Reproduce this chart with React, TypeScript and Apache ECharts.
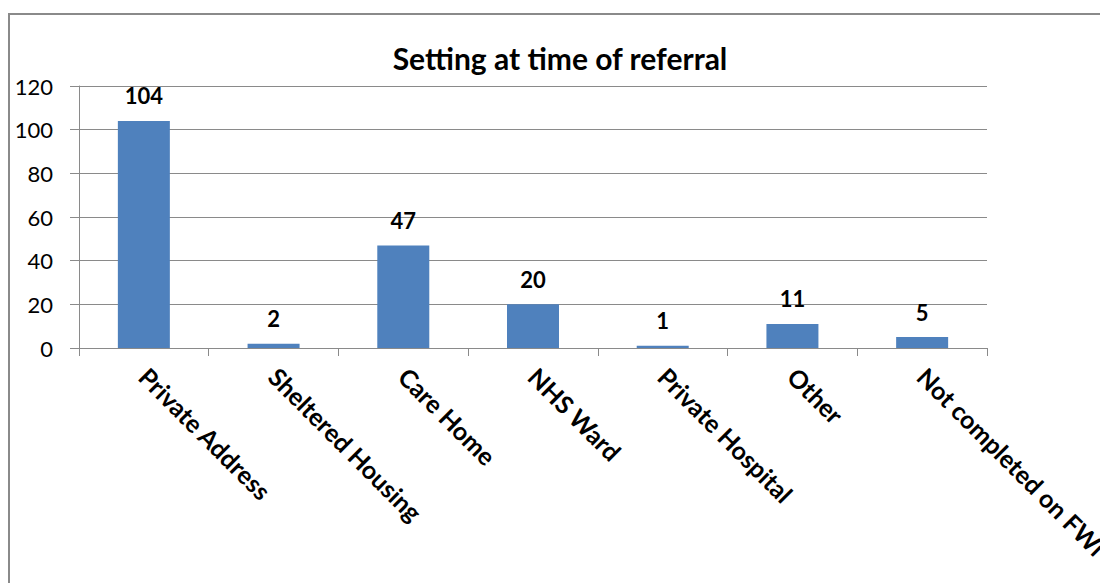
import React, { useEffect, useRef } from "react";
import * as echarts from "echarts";

const categories = [
  "Private Address",
  "Sheltered Housing",
  "Care Home",
  "NHS Ward",
  "Private Hospital",
  "Other",
  "Not completed on FWi",
];
const values = [104, 2, 47, 20, 1, 11, 5];
const yTicks = { min: 0, max: 120, interval: 20 };
const title = "Setting at time of referral";

const FONT = "Lato, 'Open Sans', sans-serif";

export default function App() {
  const ref = useRef<HTMLDivElement>(null);
  useEffect(() => {
    document.body.style.margin = "0";
    const chart = echarts.init(ref.current!, undefined, { renderer: "svg" });
    chart.setOption({
      animation: false,
      backgroundColor: "#ffffff",
      textStyle: { fontFamily: FONT },
      title: {
        text: title,
        left: 555,
        textAlign: "center",
        top: 38,
        textStyle: { fontFamily: FONT, fontWeight: "bold", fontSize: 30, color: "#000" },
      },
      graphic: [
        {
          type: "rect",
          shape: { x: 9, y: 14, width: 1300, height: 800 },
          style: { fill: "none", stroke: "#8a8a8a", lineWidth: 2 },
          silent: true,
        },
      ],
      grid: {
        left: 79,
        right: 113,
        top: 86,
        bottom: 235,
        containLabel: false,
        outerBoundsMode: "none",
      },
      xAxis: {
        type: "category",
        data: categories,
        axisLine: { show: true, lineStyle: { color: "#8a8a8a", width: 1 } },
        axisTick: { show: true, alignWithLabel: false, length: 8, lineStyle: { color: "#8a8a8a" } },
        axisLabel: {
          interval: 0,
          rotate: -45,
          margin: 24,
          color: "#000",
          fontFamily: FONT,
          fontSize: 25,
          fontWeight: "bold",
        },
      },
      yAxis: {
        type: "value",
        min: yTicks.min,
        max: yTicks.max,
        interval: yTicks.interval,
        axisLine: { show: true, lineStyle: { color: "#8a8a8a", width: 1 } },
        axisTick: { show: true, length: 9, lineStyle: { color: "#8a8a8a" } },
        splitLine: { show: true, lineStyle: { color: "#8a8a8a", width: 1 } },
        axisLabel: { margin: 26, color: "#000", fontFamily: FONT, fontSize: 22 },
      },
      series: [
        {
          type: "bar",
          data: values,
          barWidth: 52,
          itemStyle: { color: "#4F81BD" },
          label: {
            show: true,
            position: "top",
            distance: 14,
            color: "#000",
            fontFamily: FONT,
            fontWeight: "bold",
            fontSize: 22,
          },
        },
      ],
    });
    return () => chart.dispose();
  }, []);
  return <div ref={ref} style={{ width: 1100, height: 583 }} />;
}
